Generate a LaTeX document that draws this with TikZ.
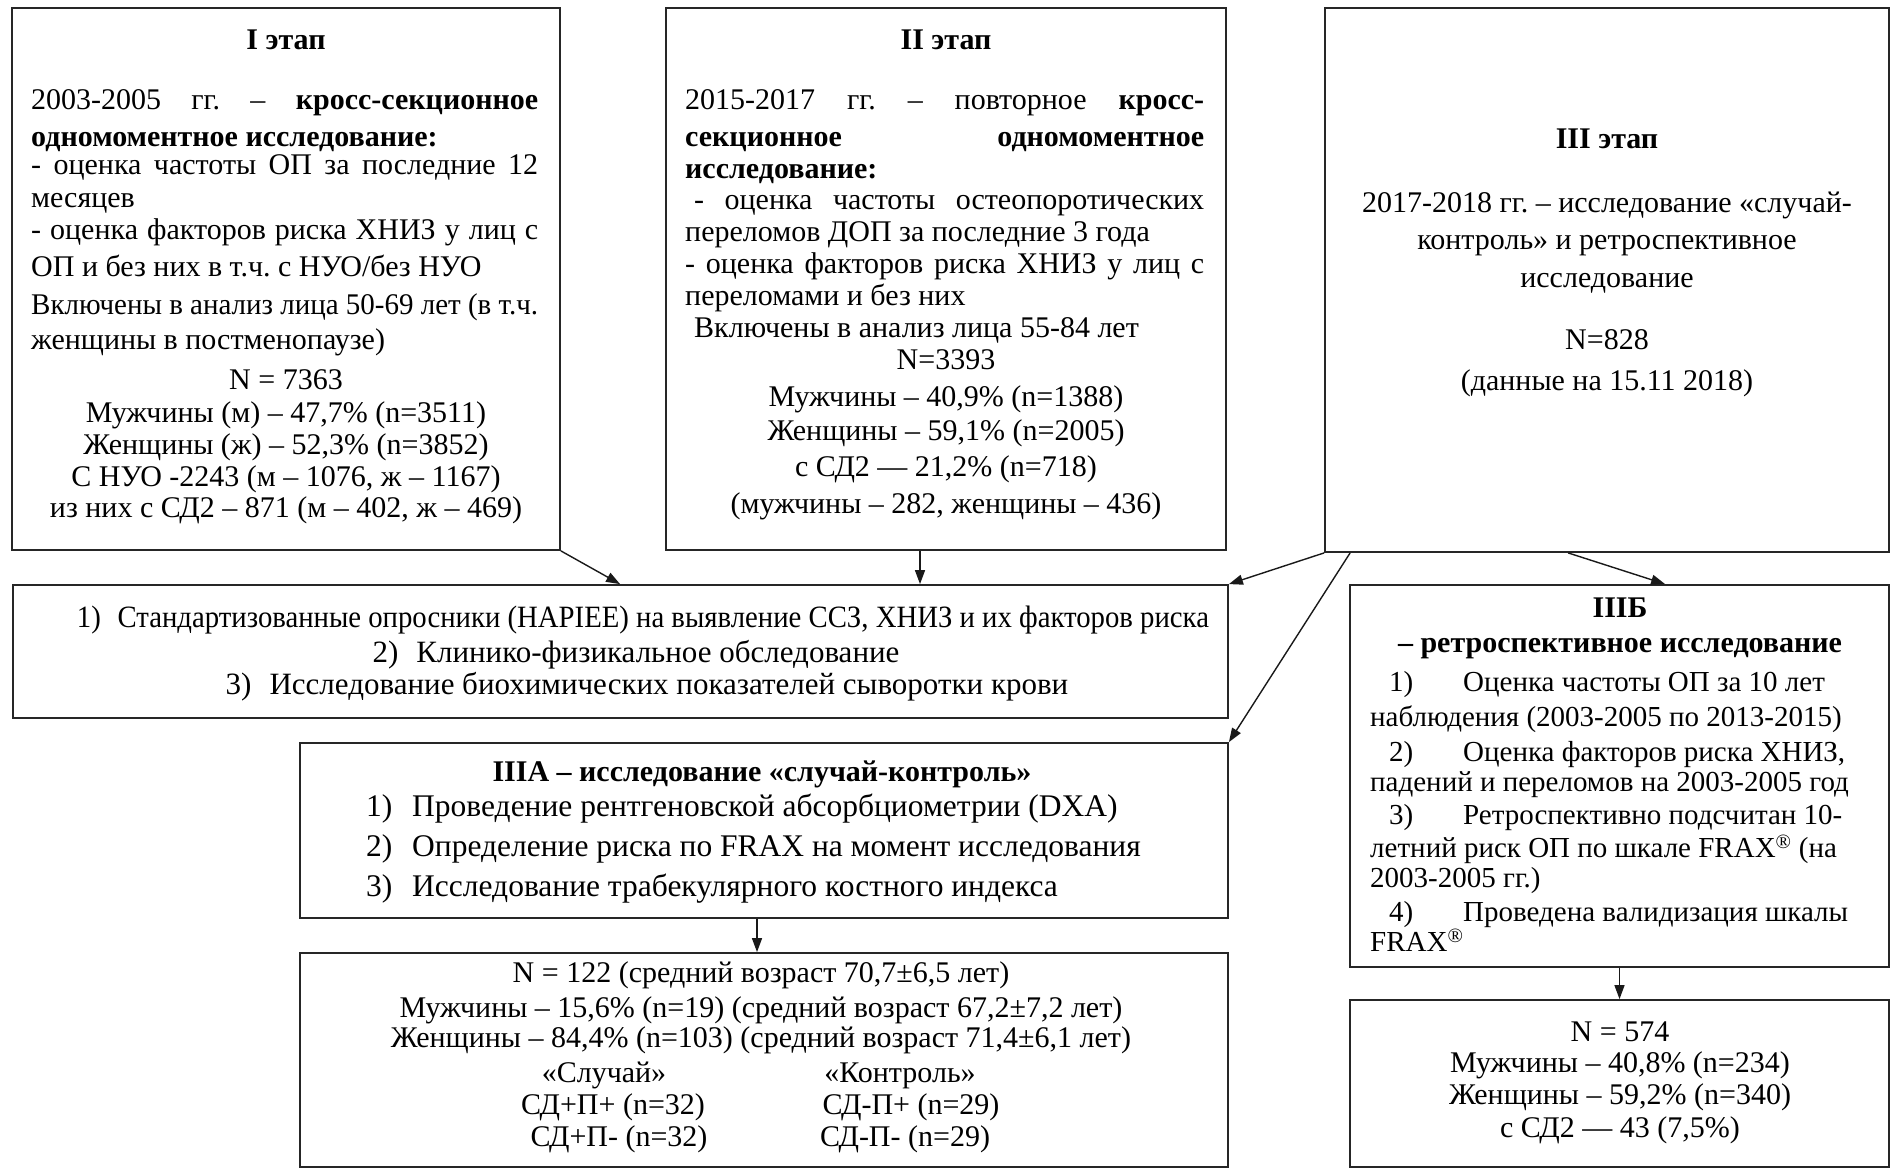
\documentclass[tikz,border=0pt]{standalone}
\usepackage{fontspec}
\usepackage{graphicx}
\setmainfont{Liberation Serif}
\usetikzlibrary{arrows.meta}
\frenchspacing
\newcommand\fsz{\fontsize{30pt}{34pt}\selectfont}
\newcommand\fszm{\fontsize{31pt}{35pt}\selectfont}
\newcommand\fsza{\fontsize{31.5pt}{35pt}\selectfont}
\newcommand\fszb{\fontsize{29pt}{33pt}\selectfont}
\newsavebox\jlbox
\newcommand\jl[2]{\sbox\jlbox{#2}\ifdim\wd\jlbox>#1pt\relax\resizebox{#1pt}{\height}{\usebox\jlbox}\else\makebox[#1pt][s]{#2}\fi}
\newcommand\reg{\textsuperscript{\textregistered}}
\begin{document}
\frenchspacing
\begin{tikzpicture}[x=1pt,y=-1pt,
  box/.style={draw=black!85,line width=1.8pt,rectangle,inner sep=0pt,fill=none},
  txt/.style={font=\fsz,inner sep=0pt,anchor=mid,yshift=-2pt},
  txl/.style={font=\fsz,inner sep=0pt,anchor=mid west,yshift=-2pt},
  arr/.style={-{Triangle[length=14pt,width=10pt]},line width=1.4pt,draw=black!90}]
\useasboundingbox (0,0) rectangle (1894,1170);
% boxes
\node[box,minimum width=548pt,minimum height=542pt] (b1) at (286,279) {};
\node[box,minimum width=560pt,minimum height=542pt] (b2) at (946,279) {};
\node[box,minimum width=564pt,minimum height=544pt] (b3) at (1607,280) {};
\node[box,minimum width=1215pt,minimum height=133pt] (m) at (620.5,651.5) {};
\node[box,minimum width=928pt,minimum height=175pt] (a) at (764,830.5) {};
\node[box,minimum width=928pt,minimum height=214pt] (ar) at (764,1060) {};
\node[box,minimum width=539pt,minimum height=382pt] (bB) at (1619.5,776) {};
\node[box,minimum width=539pt,minimum height=167pt] (br) at (1619.5,1083.5) {};
% box I text
\node[txt] (t1a) at (286,45) {\textbf{I этап}};
\node[txl] (t1b) at (31,105) {\jl{507}{2003-2005 гг. – \textbf{кросс-секционное}}};
\node[txl] (t1c) at (31,142) {\textbf{одномоментное исследование:}};
\node[txl] (t1d) at (31,170) {\jl{507}{- оценка частоты ОП за последние 12}};
\node[txl] (t1e) at (31,203) {месяцев};
\node[txl] (t1f) at (31,235) {\jl{507}{- оценка факторов риска ХНИЗ у лиц с}};
\node[txl] (t1g) at (31,272) {ОП и без них в т.ч. с НУО/без НУО};
\node[txl] (t1h) at (31,310) {\jl{507}{Включены в анализ лица 50-69 лет (в т.ч.}};
\node[txl] (t1i) at (31,345) {женщины в постменопаузе)};
\node[txt] (t1j) at (286,385) {N = 7363};
\node[txt] (t1k) at (286,418) {Мужчины (м) – 47,7\% (n=3511)};
\node[txt] (t1l) at (286,450) {Женщины (ж) – 52,3\% (n=3852)};
\node[txt] (t1m) at (286,482) {С НУО -2243 (м – 1076, ж – 1167)};
\node[txt] (t1n) at (286,513) {из них с СД2 – 871 (м – 402, ж – 469)};
% box II text
\node[txt] (t2a) at (946,45) {\textbf{II этап}};
\node[txl] (t2b) at (685,105) {\jl{519}{2015-2017 гг. – повторное \textbf{кросс-}}};
\node[txl] (t2c) at (685,142) {\jl{519}{\textbf{секционное одномоментное}}};
\node[txl] (t2d) at (685,174) {\textbf{исследование:}};
\node[txl] (t2e) at (685,205) {\jl{519}{\hspace*{9pt}- оценка частоты остеопоротических}};
\node[txl] (t2f) at (685,237) {переломов ДОП за последние 3 года};
\node[txl] (t2g) at (685,269) {\jl{519}{- оценка факторов риска ХНИЗ у лиц с}};
\node[txl] (t2h) at (685,301) {переломами и без них};
\node[txl] (t2i) at (694,333) {Включены в анализ лица 55-84 лет};
\node[txt] (t2j) at (946,365) {N=3393};
\node[txt] (t2k) at (946,402) {Мужчины – 40,9\% (n=1388)};
\node[txt] (t2l) at (946,436) {Женщины – 59,1\% (n=2005)};
\node[txt] (t2m) at (946,472) {с СД2 — 21,2\% (n=718)};
\node[txt] (t2n) at (946,509) {(мужчины – 282, женщины – 436)};
% box III text
\node[txt] (t3a) at (1607,144) {\textbf{III этап}};
\node[txt] (t3b) at (1607,208) {2017-2018 гг. – исследование «случай-};
\node[txt] (t3c) at (1607,245) {контроль» и ретроспективное};
\node[txt] (t3d) at (1607,283) {исследование};
\node[txt] (t3e) at (1607,345) {N=828};
\node[txt] (t3f) at (1607,386) {(данные на 15.11 2018)};
% methods
\node[txt,font=\fszm] (tm1) at (643,623) {\jl{1132}{1)\hspace{18pt}Стандартизованные опросники (HAPIEE) на выявление ССЗ, ХНИЗ и их факторов риска}};
\node[txt,font=\fszm] (tm2) at (636,658) {2)\hspace{18pt}Клинико-физикальное обследование};
\node[txt,font=\fszm] (tm3) at (647,690) {3)\hspace{18pt}Исследование биохимических показателей сыворотки крови};
% IIIA
\node[txt] (ta0) at (762,777) {\textbf{IIIА – исследование «случай-контроль»}};
\node[txl,font=\fsza] (ta1) at (366,812) {\makebox[46pt][l]{1)}Проведение рентгеновской абсорбциометрии (DXA)};
\node[txl,font=\fsza] (ta2) at (366,852) {\makebox[46pt][l]{2)}Определение риска по FRAX на момент исследования};
\node[txl,font=\fsza] (ta3) at (366,892) {\makebox[46pt][l]{3)}Исследование трабекулярного костного индекса};
% IIIA result
\node[txt] (tr1) at (761,978) {N = 122 (средний возраст 70,7±6,5 лет)};
\node[txt] (tr2) at (761,1013) {Мужчины – 15,6\% (n=19) (средний возраст 67,2±7,2 лет)};
\node[txt] (tr3) at (761,1043) {Женщины – 84,4\% (n=103) (средний возраст 71,4±6,1 лет)};
\node[txt] (tr4) at (604,1078) {«Случай»};
\node[txt] (tr5) at (900,1078) {«Контроль»};
\node[txt] (tr6) at (613,1110) {СД+П+ (n=32)};
\node[txt] (tr7) at (619,1142) {СД+П- (n=32)};
\node[txt] (tr8) at (911,1110) {СД-П+ (n=29)};
\node[txt] (tr9) at (905,1142) {СД-П- (n=29)};
% IIIB
\node[txt] (tb0) at (1620,613) {\textbf{IIIБ}};
\node[txt] (tb1) at (1620,648) {\textbf{– ретроспективное исследование}};
\node[txl,font=\fszb] (tb2) at (1389,687) {\makebox[74pt][l]{1)}Оценка частоты ОП за 10 лет};
\node[txl,font=\fszb] (tb3) at (1370,722) {наблюдения (2003-2005 по 2013-2015)};
\node[txl,font=\fszb] (tb4) at (1389,757) {\makebox[74pt][l]{2)}Оценка факторов риска ХНИЗ,};
\node[txl,font=\fszb] (tb5) at (1370,787) {падений и переломов на 2003-2005 год};
\node[txl,font=\fszb] (tb6) at (1389,820) {\makebox[74pt][l]{3)}Ретроспективно подсчитан 10-};
\node[txl,font=\fszb] (tb7) at (1370,853) {летний риск ОП по шкале FRAX\reg{} (на};
\node[txl,font=\fszb] (tb8) at (1370,883) {2003-2005 гг.)};
\node[txl,font=\fszb] (tb9) at (1389,917) {\makebox[74pt][l]{4)}Проведена валидизация шкалы};
\node[txl,font=\fszb] (tb10) at (1370,947) {FRAX\reg};
% IIIB result
\node[txt] (tc1) at (1620,1037) {N = 574};
\node[txt] (tc2) at (1620,1068) {Мужчины – 40,8\% (n=234)};
\node[txt] (tc3) at (1620,1100) {Женщины – 59,2\% (n=340)};
\node[txt] (tc4) at (1620,1133) {с СД2 — 43 (7,5\%)};
% connectors
\draw[arr] (b1.south east) -- ([xshift=608pt]m.north west);
\draw[arr] ([xshift=-26pt]b2.south) -- ([xshift=-26pt]b2.south |- m.north);
\draw[arr] (b3.south west) -- (m.north east);
\draw[arr] ([xshift=26pt]b3.south west) -- (a.north east);
\draw[arr] ([xshift=244pt]b3.south west) -- ([xshift=316pt]bB.north west);
\draw[arr] ([xshift=-7pt]a.south) -- ([xshift=-7pt]a.south |- ar.north);
\draw[arr] (bB.south) -- (br.north);
\end{tikzpicture}
\end{document}
